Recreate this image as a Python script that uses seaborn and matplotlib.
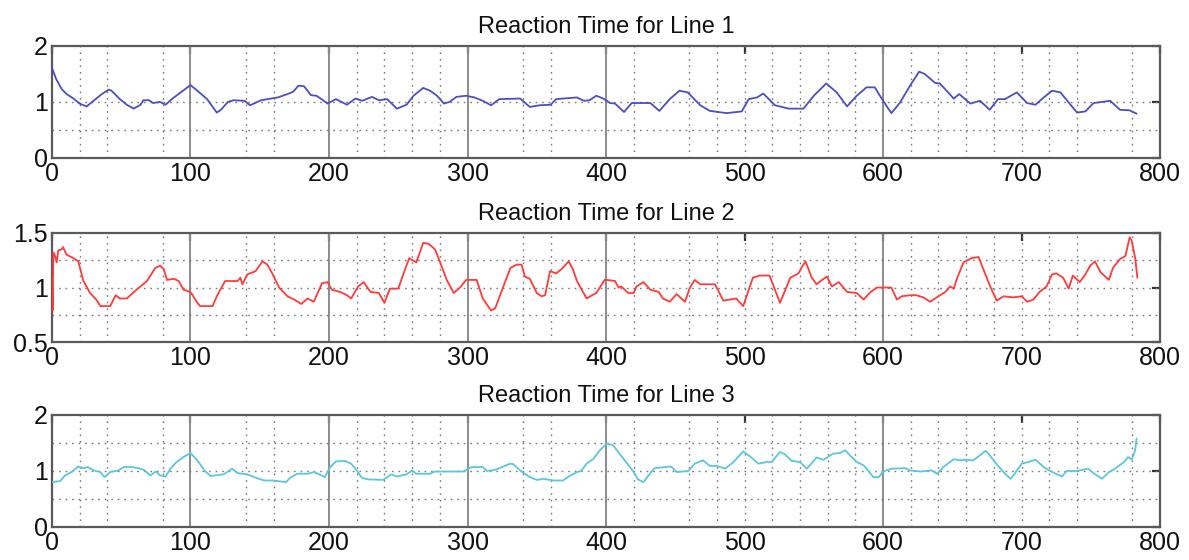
import matplotlib
matplotlib.use("Agg")
import matplotlib.pyplot as plt
import seaborn as sns
import pandas as pd

# ---------------- data ----------------
titles = ["Reaction Time for Line 1", "Reaction Time for Line 2", "Reaction Time for Line 3"]

x1 = [0, 3, 7, 10.6, 15.5, 20, 25, 30, 36, 41, 43, 49, 54, 59, 64, 66, 70, 73, 78, 82, 87, 93, 100,
      105, 112, 119, 122, 127, 131, 139, 143, 151, 158, 163, 170, 174, 178, 182, 187, 191, 194, 199,
      205, 209, 213, 219, 224, 231, 236, 242, 249, 256, 261, 268, 273, 278, 283, 287, 292, 299, 305,
      311, 317, 323, 338, 345, 352, 360, 364, 379, 384, 388, 393, 398, 403, 406.5, 413, 418.5, 432,
      438.5, 446, 453, 459, 468, 475, 487, 498, 503, 509, 513.5, 522, 532, 542.5, 550, 559, 566.5,
      574, 581, 588, 594, 600, 606, 612, 619.5, 626, 630, 637.5, 641, 651, 655, 663, 670, 677, 683,
      688, 696.5, 704, 710, 716, 722, 728, 740, 746, 752, 764, 771, 778, 783]
y1 = [1.61, 1.41, 1.23, 1.14, 1.06, 0.97, 0.92, 1.02, 1.14, 1.22, 1.20, 1.05, 0.95, 0.88, 0.95, 1.03,
      1.03, 0.98, 1.00, 0.95, 1.06, 1.17, 1.30, 1.20, 1.05, 0.81, 0.86, 1.00, 1.03, 1.02, 0.94, 1.03,
      1.06, 1.08, 1.14, 1.18, 1.29, 1.28, 1.12, 1.11, 1.06, 0.97, 1.05, 1.00, 0.95, 1.06, 1.02, 1.09,
      1.03, 1.05, 0.88, 0.95, 1.11, 1.25, 1.20, 1.11, 0.97, 1.00, 1.09, 1.11, 1.08, 1.02, 0.94, 1.05,
      1.06, 0.91, 0.94, 0.95, 1.05, 1.08, 1.02, 1.03, 1.11, 1.06, 0.98, 0.97, 0.82, 0.98, 0.98, 0.84,
      1.05, 1.20, 1.17, 0.94, 0.84, 0.80, 0.83, 1.05, 1.08, 1.15, 0.94, 0.88, 0.88, 1.11, 1.33, 1.17,
      0.92, 1.11, 1.26, 1.26, 1.02, 0.80, 0.98, 1.29, 1.54, 1.50, 1.34, 1.33, 1.06, 1.14, 0.97, 1.02,
      0.86, 1.05, 1.05, 1.17, 0.98, 0.95, 1.08, 1.20, 1.17, 0.81, 0.83, 0.98, 1.02, 0.86, 0.85, 0.79]

x2 = [0, 0.5, 1, 2, 3.4, 4.6, 7, 8, 10.6, 15.5, 19, 22.7, 27.5, 32, 35, 42, 46, 49, 54, 61, 68.6,
      74.6, 78, 80.7, 83, 88, 91.5, 95, 100, 105, 107, 116, 119, 125, 134, 136, 137.5, 141, 147, 152,
      155.5, 159, 164, 170, 175, 180, 184.5, 189, 195, 199, 202, 208, 213, 216, 221, 225, 230, 236,
      240, 244, 250, 255, 258, 263, 268, 272, 276.5, 280, 285, 290, 294.6, 299, 306.6, 311, 317, 320,
      325, 331, 335.5, 339, 341.5, 345, 350, 353.5, 356, 359.6, 364, 368, 373, 376, 379, 386, 390,
      393, 399, 400.5, 406.5, 409, 411, 416, 420, 422, 427, 432, 438, 441, 446, 451, 457, 460.6, 464,
      468, 478.7, 484.7, 494, 499, 506, 511, 518, 525.6, 533, 539, 541, 544, 548.5, 552, 556, 559.5,
      563, 568, 574, 581, 586, 591, 595.5, 606, 610, 613.5, 619.5, 624, 629, 634, 640, 645, 648.4,
      651, 653, 658, 664, 669, 672, 677, 682, 687, 694, 700, 704, 708.5, 713, 718, 722, 725, 730,
      734, 737, 742, 746, 749.5, 753, 757, 763, 766, 771, 775, 778, 779.5, 782, 783.6]
y2 = [1.10, 0.79, 1.32, 1.30, 1.23, 1.34, 1.35, 1.37, 1.30, 1.27, 1.24, 1.06, 0.95, 0.89, 0.83, 0.83,
      0.93, 0.90, 0.90, 0.98, 1.06, 1.18, 1.20, 1.17, 1.07, 1.08, 1.06, 0.98, 0.96, 0.86, 0.83, 0.83,
      0.92, 1.06, 1.06, 1.09, 1.03, 1.12, 1.15, 1.24, 1.21, 1.13, 1.00, 0.92, 0.89, 0.85, 0.90, 0.87,
      1.04, 1.05, 0.98, 0.96, 0.93, 0.90, 1.01, 1.05, 0.96, 0.95, 0.86, 0.99, 0.99, 1.17, 1.27, 1.23,
      1.41, 1.40, 1.35, 1.24, 1.07, 0.95, 1.00, 1.07, 1.07, 0.90, 0.79, 0.81, 0.98, 1.18, 1.21, 1.21,
      1.10, 1.08, 0.95, 0.92, 0.93, 1.15, 1.13, 1.17, 1.24, 1.17, 1.06, 0.90, 0.93, 0.95, 1.07, 1.07,
      1.06, 1.00, 1.01, 0.95, 0.95, 1.01, 1.05, 0.98, 0.96, 0.90, 0.87, 0.94, 0.87, 1.00, 1.07, 1.03,
      1.03, 0.88, 0.90, 0.83, 1.09, 1.11, 1.11, 0.86, 1.09, 1.13, 1.18, 1.24, 1.09, 1.03, 1.07, 1.10,
      1.01, 1.05, 0.96, 0.95, 0.89, 0.96, 1.00, 1.00, 0.89, 0.92, 0.93, 0.93, 0.91, 0.87, 0.92, 0.96,
      1.01, 0.99, 1.07, 1.23, 1.27, 1.28, 1.18, 1.02, 0.88, 0.92, 0.91, 0.92, 0.87, 0.89, 0.96, 1.01,
      1.12, 1.13, 1.09, 0.99, 1.11, 1.05, 1.12, 1.20, 1.24, 1.14, 1.07, 1.18, 1.26, 1.29, 1.46, 1.43,
      1.27, 1.09]

x3 = [0, 6, 9.4, 14, 19, 22.7, 26, 30, 35, 38, 42, 48, 52, 58, 64, 67, 71, 75, 78, 82, 85.5, 90, 95,
      100, 105, 110, 114.5, 124, 130, 134, 141, 146, 153, 160, 169, 172, 177, 184.5, 189, 193, 197,
      201, 205, 211.5, 216, 220, 223.6, 228, 239, 245, 249, 256, 260, 263, 273, 276.5, 285, 297, 303,
      311, 314, 320, 325, 330.7, 333, 339, 345, 350, 355, 362, 369, 373, 379, 382, 386, 391, 395.6,
      400.5, 405, 412.5, 420, 423, 427, 430.6, 435, 447, 451, 459.5, 464, 470, 475, 480, 486, 492, 499,
      504, 510, 516, 519.6, 525.6, 529, 534, 540, 545, 552, 557, 564, 569, 572.6, 576, 581, 586, 593,
      597, 600, 606, 616, 619.5, 627, 635, 639, 643.5, 651, 655.6, 660, 665, 670, 674, 677, 682, 688,
      692, 695, 700, 705, 710, 716, 720.6, 729, 732.6, 740, 748, 752, 758, 763, 767.5, 774, 777,
      779.5, 782, 783]
y3 = [0.80, 0.82, 0.92, 0.98, 1.08, 1.05, 1.07, 1.01, 0.98, 0.89, 0.98, 1.01, 1.07, 1.07, 1.04, 1.01,
      0.92, 0.99, 0.92, 0.90, 1.04, 1.16, 1.25, 1.32, 1.19, 1.01, 0.91, 0.94, 1.04, 0.96, 0.94, 0.89,
      0.83, 0.83, 0.80, 0.88, 0.95, 0.95, 0.98, 0.94, 0.89, 1.07, 1.17, 1.18, 1.13, 1.01, 0.88, 0.85,
      0.84, 0.94, 0.90, 0.94, 1.01, 0.95, 0.95, 0.99, 0.99, 0.99, 1.07, 1.07, 1.00, 1.02, 1.07, 1.13,
      1.12, 0.99, 0.89, 0.84, 0.86, 0.83, 0.83, 0.90, 0.98, 1.00, 1.13, 1.22, 1.37, 1.49, 1.46, 1.22,
      0.98, 0.85, 0.80, 0.92, 1.05, 1.08, 0.98, 1.00, 1.13, 1.19, 1.09, 1.09, 1.04, 1.16, 1.35, 1.26,
      1.13, 1.16, 1.16, 1.34, 1.30, 1.18, 1.16, 1.04, 1.24, 1.20, 1.31, 1.32, 1.37, 1.28, 1.16, 1.10,
      0.89, 0.89, 0.99, 1.04, 1.05, 1.01, 0.99, 1.01, 0.95, 1.07, 1.21, 1.19, 1.20, 1.19, 1.28, 1.36,
      1.28, 1.12, 0.95, 0.86, 0.95, 1.13, 1.16, 1.20, 1.07, 1.00, 0.90, 1.00, 1.00, 1.04, 0.96, 0.86,
      0.98, 1.04, 1.16, 1.25, 1.20, 1.37, 1.58]

line_colors = ["#4b4fc0", "#ff3b3b", "#5cc6dc"]
ylims = [(0, 2), (0.5, 1.5), (0, 2)]
yticks = [[0, 1, 2], [0.5, 1, 1.5], [0, 1, 2]]
ytick_labels = [["0", "1", "2"], ["0.5", "1", "1.5"], ["0", "1", "2"]]
hgrid = [[0.5, 1.0], [0.75, 1.0, 1.25], [0.5, 1.0, 1.5]]
xticks = [0, 100, 200, 300, 400, 500, 600, 700, 800]
solid_v = [100, 200, 300, 400, 600]
dotted_v = [20, 40, 80, 140, 160, 220, 240, 260, 280, 340, 360, 420, 460, 480, 500, 520, 540,
            560, 580, 620, 640, 660, 680, 700, 720, 740, 780]

# ---------------- plot ----------------
sns.set_theme(style="white")
plt.rcParams["font.family"] = ["Liberation Sans", "DejaVu Sans"]

fig = plt.figure(figsize=(11.89, 5.6), dpi=100)
left, width = 0.0437, 0.932
boxes = [(0.718, 0.918 - 0.718), (0.389, 0.584 - 0.389), (0.059, 0.259 - 0.059)]

series = [(x1, y1), (x2, y2), (x3, y3)]
for i, (xs, ys) in enumerate(series):
    b, h = boxes[i]
    ax = fig.add_axes([left, b, width, h])
    for v in dotted_v:
        ax.axvline(v, color="#7a7a7a", lw=1.0, ls=(0, (1.2, 3.5)), zorder=1)
    for v in solid_v:
        ax.axvline(v, color="#8c8c8c", lw=1.4, zorder=1)
    for g in hgrid[i]:
        ax.axhline(g, color="#7a7a7a", lw=1.0, ls=(0, (1.2, 3.5)), zorder=1)
    df = pd.DataFrame({"x": xs, "y": ys})
    sns.lineplot(data=df, x="x", y="y", ax=ax, color=line_colors[i], lw=1.3, sort=False,
                 estimator=None, zorder=3)
    ax.set_xlim(0, 800)
    ax.set_ylim(*ylims[i])
    ax.set_xticks(xticks)
    ax.set_xticklabels([str(t) for t in xticks])
    ax.set_yticks(yticks[i])
    ax.set_yticklabels(ytick_labels[i])
    ax.set_xlabel("")
    ax.set_ylabel("")
    ax.set_title(titles[i], fontsize=17, pad=9, color="#111111")
    ax.tick_params(axis="both", direction="in", length=6, width=1.6, color="#333333",
                   top=True, right=True, labelsize=18, pad=3, labelcolor="#111111")
    for sp in ax.spines.values():
        sp.set_color("#5a5a5a")
        sp.set_linewidth(1.6)

fig.savefig("out.png", dpi=100)
